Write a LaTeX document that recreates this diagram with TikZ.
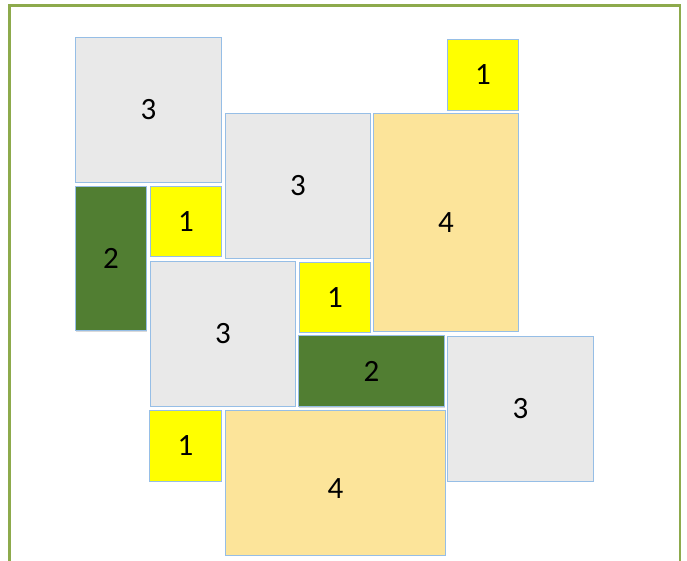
\documentclass[tikz,border=0pt]{standalone}
\usepackage{fontspec}
\setmainfont{Carlito}
\usetikzlibrary{shadows}
\definecolor{frameolive}{RGB}{141,170,76}
\definecolor{tileedge}{RGB}{150,190,230}
\definecolor{tilegray}{RGB}{233,233,233}
\definecolor{tileyellow}{RGB}{255,255,0}
\definecolor{tilegreen}{RGB}{81,126,50}
\definecolor{tilegold}{RGB}{252,228,154}
\begin{document}
\begin{tikzpicture}[x=1pt, y=-1pt,
    tile/.style={draw=tileedge, line width=0.9pt, inner sep=0pt, anchor=north west,
      font=\fontsize{31}{36}\selectfont},
    graytile/.style={tile, fill=tilegray},
    yellowtile/.style={tile, fill=tileyellow},
    greentile/.style={tile, fill=tilegreen,
      drop shadow={opacity=0.3, shadow xshift=1pt, shadow yshift=-1.5pt}},
    goldtile/.style={tile, fill=tilegold}]
  \useasboundingbox (0,0) rectangle (687,560);
  \clip (0,0) rectangle (687,560);
  % 1. Rahmen
  \draw[frameolive, line width=2.6pt] (9.5,570) -- (9.5,5.5) -- (680,5.5) -- (680,570);

  % 2. graue Quadrate
  \node[graytile, minimum width=146, minimum height=145] (g1) at (75,37) {3};
  \node[graytile, minimum width=145, minimum height=145] (g2) at (225,113) {3};
  \node[graytile, minimum width=145, minimum height=145] (g3) at (150,261) {3};
  \node[graytile, minimum width=146, minimum height=145] (g4) at (447,336) {3};

  % 3. gelbe Quadrate
  \node[yellowtile, minimum width=71, minimum height=71] (y1) at (447,39) {1};
  \node[yellowtile, minimum width=71, minimum height=70] (y2) at (150,186) {1};
  \node[yellowtile, minimum width=71, minimum height=70] (y3) at (299,262) {1};
  \node[yellowtile, minimum width=72, minimum height=71] (y4) at (149,410) {1};

  % 4. gruene Rechtecke
  \node[greentile, minimum width=71, minimum height=144] (d1) at (75,186) {2};
  \node[greentile, minimum width=146, minimum height=71] (d2) at (298,335) {2};

  % 5. goldene Rechtecke
  \node[goldtile, minimum width=145, minimum height=218] (o1) at (373,113) {4};
  \node[goldtile, minimum width=220, minimum height=145] (o2) at (225,410) {};
  \node[font=\fontsize{31}{36}\selectfont] (o2label) at ([yshift=-6pt]o2.center) {4};
\end{tikzpicture}
\end{document}
